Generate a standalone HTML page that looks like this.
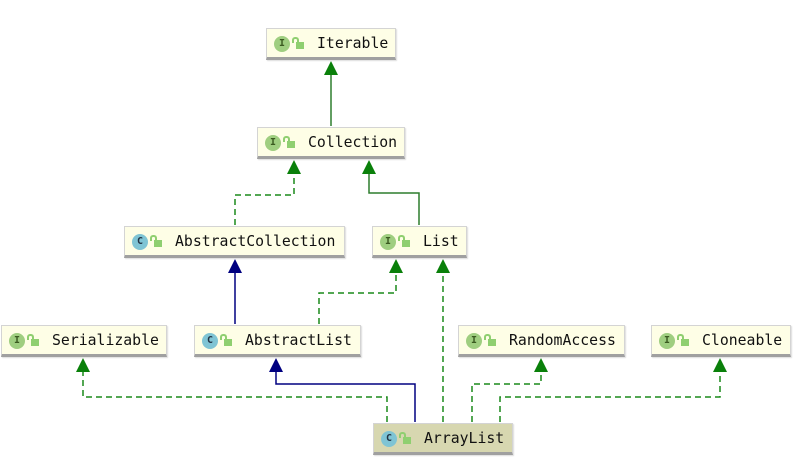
<!DOCTYPE html>
<html><head><style>
body{margin:0;width:802px;height:473px;background:#fff;position:relative;overflow:hidden;font-family:"DejaVu Sans Mono","Liberation Mono",monospace;}
.b{position:absolute;height:32px;background:#fefee6;border:1px solid #d4d4d4;border-bottom:3px solid #a0a0a0;box-sizing:border-box;font-size:14.8px;line-height:30px;color:#111;box-shadow:1px 1px 1px #ddd;}
.i{position:absolute;left:7px;top:7px;width:16px;height:16px;border-radius:50%;font-size:10px;line-height:16px;text-align:center;font-weight:bold;}
.I{background:#9fce80;color:#3a5a20;}
.C{background:#7fc4d4;color:#234;}
.l{position:absolute;left:29px;top:13px;width:8px;height:7px;background:#8fcf70;}
.l:before{content:"";position:absolute;left:-4px;top:-5px;width:3px;height:4px;border:2px solid #8fcf70;border-bottom:none;border-radius:3px 3px 0 0;}
.t{position:absolute;left:50px;top:0;}
svg{position:absolute;left:0;top:0}
</style></head><body>
<svg width="802" height="473">
<g fill="none" stroke-width="1.5">
<path d="M331 126V70" stroke="#2d7d2d"/>
<path d="M235 225V195H294V169" stroke="#1a8a1a" stroke-dasharray="6,4"/>
<path d="M419 225V193H369V169" stroke="#2d7d2d"/>
<path d="M235 324V268" stroke="#000080"/>
<path d="M319 324V293H396V268" stroke="#1a8a1a" stroke-dasharray="6,4"/>
<path d="M443 422V268" stroke="#1a8a1a" stroke-dasharray="6,4"/>
<path d="M387 422V397H83V367" stroke="#1a8a1a" stroke-dasharray="6,4"/>
<path d="M415 422V384H276V367" stroke="#000080"/>
<path d="M472 422V384H541V367" stroke="#1a8a1a" stroke-dasharray="6,4"/>
<path d="M500 422V397H720V367" stroke="#1a8a1a" stroke-dasharray="6,4"/>
</g>
<g fill="#0a800a">
<path d="M331 61l-7 14h14z"/><path d="M294 160l-7 14h14z"/><path d="M369 160l-7 14h14z"/>
<path d="M396 259l-7 14h14z"/><path d="M443 259l-7 14h14z"/>
<path d="M83 358l-7 14h14z"/><path d="M541 358l-7 14h14z"/><path d="M720 358l-7 14h14z"/>
</g>
<g fill="#000080"><path d="M235 259l-7 14h14z"/><path d="M276 358l-7 14h14z"/></g>
</svg>
<div class="b" style="left:266px;top:28px;width:130px"><span class="i I">I</span><span class="l"></span><span class="t">Iterable</span></div>
<div class="b" style="left:257px;top:127px;width:148px"><span class="i I">I</span><span class="l"></span><span class="t">Collection</span></div>
<div class="b" style="left:124px;top:226px;width:221px"><span class="i C">C</span><span class="l"></span><span class="t">AbstractCollection</span></div>
<div class="b" style="left:372px;top:226px;width:95px"><span class="i I">I</span><span class="l"></span><span class="t">List</span></div>
<div class="b" style="left:1px;top:325px;width:166px"><span class="i I">I</span><span class="l"></span><span class="t">Serializable</span></div>
<div class="b" style="left:194px;top:325px;width:167px"><span class="i C">C</span><span class="l"></span><span class="t">AbstractList</span></div>
<div class="b" style="left:458px;top:325px;width:167px"><span class="i I">I</span><span class="l"></span><span class="t">RandomAccess</span></div>
<div class="b" style="left:651px;top:325px;width:140px"><span class="i I">I</span><span class="l"></span><span class="t">Cloneable</span></div>
<div class="b" style="left:373px;top:423px;width:140px;background:#d7d7b0"><span class="i C">C</span><span class="l"></span><span class="t">ArrayList</span></div>
</body></html>
